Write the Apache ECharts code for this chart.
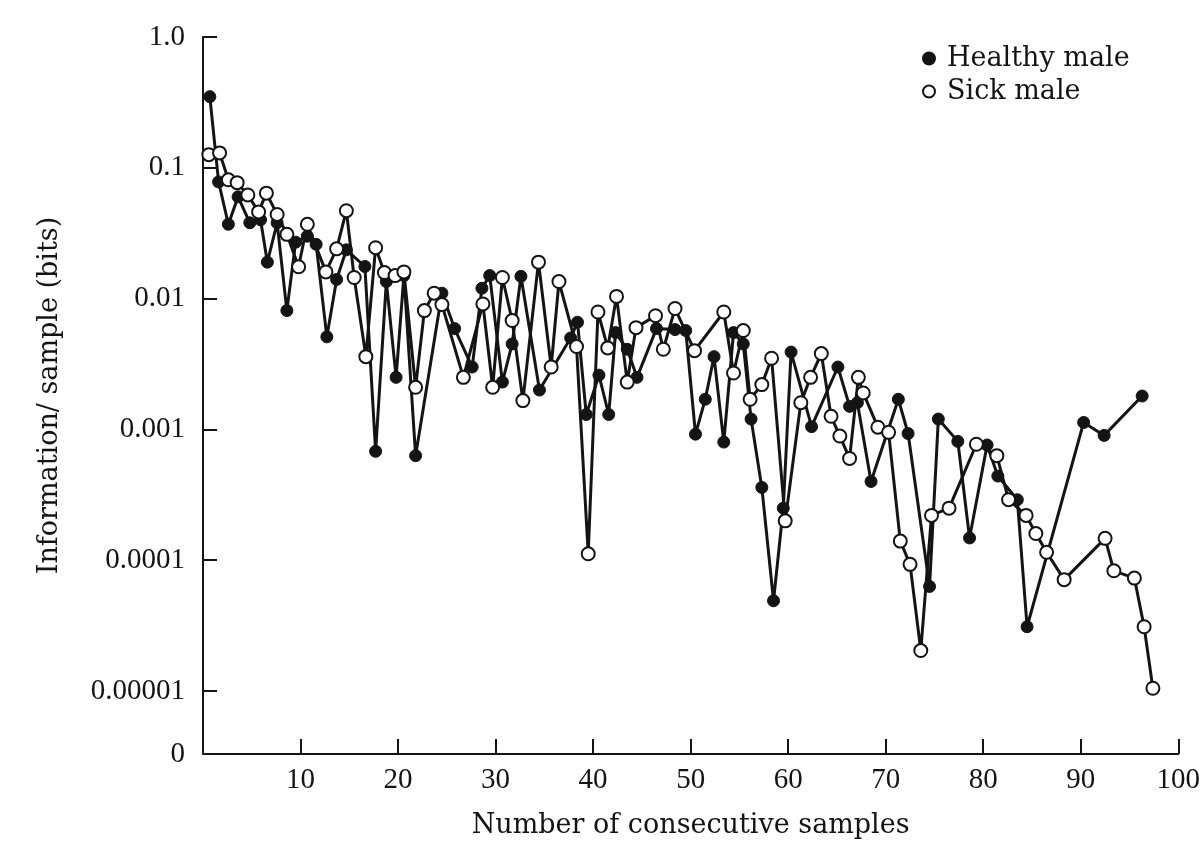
<!DOCTYPE html>
<html>
<head>
<meta charset="utf-8">
<script src="https://cdn.jsdelivr.net/npm/echarts@6/dist/echarts.min.js"></script>
<style>
  html, body { margin: 0; padding: 0; background: #fff; }
  #main { width: 1203px; height: 844px; }
</style>
</head>
<body>
<div id="main"></div>
<script>
// Healthy male (filled dots)
const healthyX = [0.7, 1.6, 2.6, 3.6, 4.8, 5.9, 6.6, 7.6, 8.6, 9.5, 10.7, 11.6, 12.7, 13.7, 14.7, 16.6, 17.7, 18.8, 19.8, 20.6,
  21.8, 24.5, 25.8, 27.6, 28.6, 29.4, 30.7, 31.7, 32.6, 34.5, 37.7, 38.4, 39.3, 40.6, 41.6, 42.3, 43.5, 44.5, 46.5, 48.4,
  49.5, 50.5, 51.5, 52.4, 53.4, 54.4, 55.4, 56.2, 57.3, 58.5, 59.5, 60.3, 62.4, 65.1, 66.3, 67.1, 68.5, 71.3, 72.3, 74.5,
  75.4, 77.4, 78.6, 80.4, 81.5, 83.5, 84.5, 90.3, 92.4, 96.3];
const healthyY = [0.35, 0.078, 0.037, 0.06, 0.038, 0.04, 0.019, 0.038, 0.0081, 0.027, 0.03, 0.026, 0.0051, 0.014, 0.0236, 0.0176, 0.00068, 0.0135, 0.0025, 0.015,
  0.00063, 0.011, 0.0059, 0.003, 0.012, 0.015, 0.0023, 0.0045, 0.0148, 0.002, 0.005, 0.0066, 0.0013, 0.0026, 0.0013, 0.0055, 0.0041, 0.0025, 0.0059, 0.0058,
  0.0057, 0.00092, 0.0017, 0.0036, 0.0008, 0.0055, 0.0045, 0.0012, 0.00036, 0.000049, 0.00025, 0.0039, 0.00105, 0.003, 0.0015, 0.0016, 0.0004, 0.0017, 0.00093, 0.000063,
  0.0012, 0.00081, 0.000148, 0.00076, 0.00044, 0.00029, 0.000031, 0.00113, 0.0009, 0.0018];

// Sick male (open dots)
const sickX = [0.6, 1.7, 2.6, 3.5, 4.6, 5.7, 6.5, 7.6, 8.6, 9.8, 10.7, 12.6, 13.7, 14.7, 15.5, 16.7, 17.7, 18.6, 19.7, 20.6,
  21.8, 22.7, 23.7, 24.5, 26.7, 28.7, 29.7, 30.7, 31.7, 32.8, 34.4, 35.7, 36.5, 38.3, 39.5, 40.5, 41.5, 42.4, 43.5, 44.4,
  46.4, 47.2, 48.4, 50.4, 53.4, 54.4, 55.4, 56.1, 57.3, 58.3, 59.7, 61.3, 62.3, 63.4, 64.4, 65.3, 66.3, 67.2, 67.7, 69.2,
  70.3, 71.5, 72.5, 73.6, 74.7, 76.5, 79.3, 81.4, 82.6, 84.4, 85.4, 86.5, 88.3, 92.5, 93.4, 95.5, 96.5, 97.4];
const sickY = [0.126, 0.13, 0.081, 0.077, 0.062, 0.046, 0.064, 0.044, 0.031, 0.0175, 0.037, 0.016, 0.024, 0.047, 0.0145, 0.0036, 0.0245, 0.0158, 0.015, 0.016,
  0.0021, 0.0081, 0.011, 0.009, 0.0025, 0.0091, 0.0021, 0.0145, 0.0068, 0.00166, 0.019, 0.003, 0.0135, 0.0043, 0.000112, 0.0079, 0.0042, 0.0104, 0.0023, 0.006,
  0.0074, 0.0041, 0.0084, 0.004, 0.0079, 0.0027, 0.0057, 0.0017, 0.0022, 0.0035, 0.0002, 0.0016, 0.0025, 0.0038, 0.00126, 0.00089, 0.0006, 0.0025, 0.0019, 0.00104,
  0.00095, 0.00014, 0.000093, 0.0000204, 0.00022, 0.00025, 0.00077, 0.00063, 0.00029, 0.00022, 0.00016, 0.000115, 0.000071, 0.000147, 0.000083, 0.000073, 0.000031, 0.0000105];

// y tick labels by decade (index = -log10)
const yTickLabels = ["1.0", "0.1", "0.01", "0.001", "0.0001", "0.00001"];
const yMin = 3.3e-6; // drawn as "0" at the bottom of the axis

const ink = "#141414";
const tickFont = { fontFamily: "Liberation Serif", fontSize: 29, color: ink };
const nameFont = { fontFamily: "DejaVu Serif", fontSize: 27, color: ink };

const zip = (xs, ys) => xs.map((x, i) => [x, ys[i]]);

const chart = echarts.init(document.getElementById("main"));
chart.setOption({
  backgroundColor: "#fff",
  animation: false,
  grid: { left: 203, right: 22, top: 37, bottom: 89 },
  legend: {
    orient: "vertical",
    left: 917,
    top: 40,
    itemGap: 6,
    icon: "circle",
    itemWidth: 12,
    itemHeight: 12,
    textStyle: Object.assign({ padding: [0, 0, 0, 7] }, nameFont),
    data: ["Healthy male", "Sick male"]
  },
  xAxis: {
    type: "value",
    min: 0,
    max: 100,
    interval: 10,
    name: "Number of consecutive samples",
    nameLocation: "middle",
    nameGap: 58,
    nameTextStyle: nameFont,
    axisLine: { lineStyle: { color: ink, width: 2 } },
    axisTick: { inside: true, length: 15, lineStyle: { color: ink, width: 2 } },
    axisLabel: Object.assign({ margin: 12, formatter: v => (v === 0 ? "" : String(v)) }, tickFont),
    splitLine: { show: false }
  },
  yAxis: {
    type: "log",
    logBase: 10,
    min: yMin,
    max: 1,
    name: "Information/ sample (bits)",
    nameLocation: "middle",
    nameGap: 140,
    nameTextStyle: nameFont,
    axisLine: { lineStyle: { color: ink, width: 2 } },
    axisTick: { inside: true, length: 14, lineStyle: { color: ink, width: 2 } },
    axisLabel: Object.assign({
      margin: 18,
      formatter: v => {
        if (v < 5e-6) return "0";
        const e = Math.round(-Math.log10(v));
        return yTickLabels[e] !== undefined ? yTickLabels[e] : "";
      }
    }, tickFont),
    splitLine: { show: false }
  },
  series: [
    {
      name: "Healthy male",
      type: "line",
      data: zip(healthyX, healthyY),
      symbol: "circle",
      symbolSize: 12,
      lineStyle: { color: ink, width: 3 },
      itemStyle: { color: ink, borderColor: ink, borderWidth: 1 },
      z: 2
    },
    {
      name: "Sick male",
      type: "line",
      data: zip(sickX, sickY),
      symbol: "circle",
      symbolSize: 13,
      lineStyle: { color: ink, width: 3 },
      itemStyle: { color: "#fff", borderColor: ink, borderWidth: 2 },
      z: 3
    }
  ]
});
</script>
</body>
</html>
